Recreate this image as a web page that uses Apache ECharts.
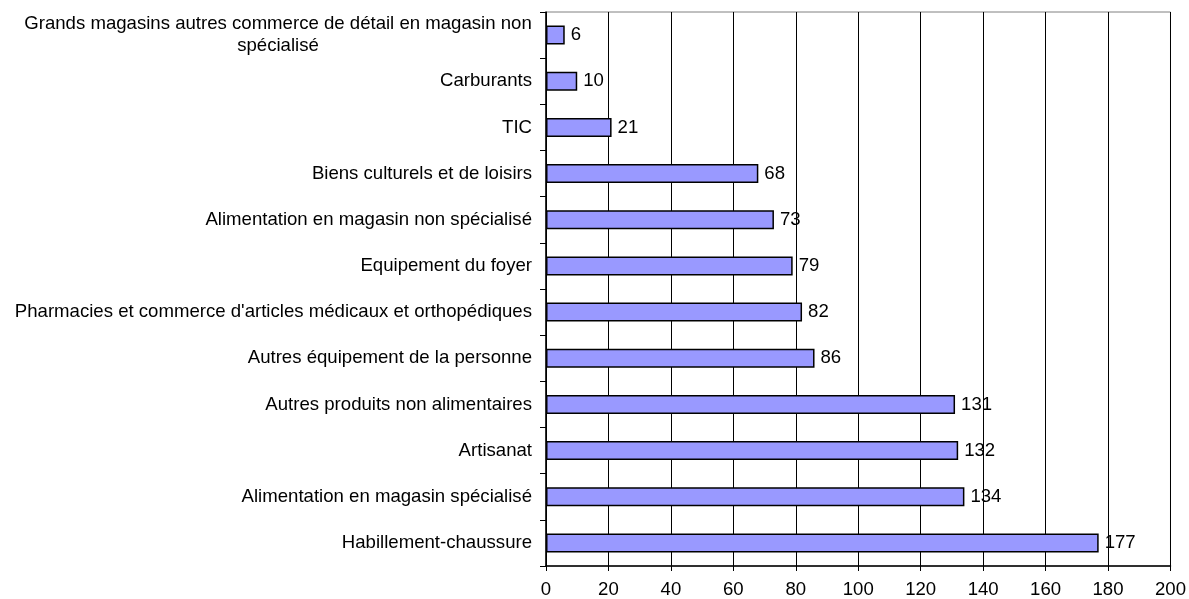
<!DOCTYPE html>
<html>
<head>
<meta charset="utf-8">
<script src="https://cdn.jsdelivr.net/npm/echarts@6/dist/echarts.min.js"></script>
<style>
  html, body { margin: 0; padding: 0; background: #fff; }
  #main { width: 1189px; height: 599px; }
</style>
</head>
<body>
<div id="main"></div>
<script>
  // categories, top to bottom
  const categories = [
    'Grands magasins autres commerce de détail en magasin non\nspécialisé',
    'Carburants',
    'TIC',
    'Biens culturels et de loisirs',
    'Alimentation en magasin non spécialisé',
    'Equipement du foyer',
    "Pharmacies et commerce d'articles médicaux et orthopédiques",
    'Autres équipement de la personne',
    'Autres produits non alimentaires',
    'Artisanat',
    'Alimentation en magasin spécialisé',
    'Habillement-chaussure',
  ];
  const values = [6, 10, 21, 68, 73, 79, 82, 86, 131, 132, 134, 177];
  const xTicks = [0, 20, 40, 60, 80, 100, 120, 140, 160, 180, 200];

  const fontFamily = 'Liberation Sans, Arial, sans-serif';
  const fontSize = 18.6;

  // width of the first line of the wrapped label, so the second line is centred under it
  const ctx = document.createElement('canvas').getContext('2d');
  ctx.font = fontSize + 'px ' + fontFamily;
  function lineWidth(s) {
    return Math.ceil(ctx.measureText(s).width);
  }

  const myChart = echarts.init(document.getElementById('main'));
  myChart.setOption({
    animation: false,
    backgroundColor: '#fff',
    textStyle: { fontFamily, fontSize, color: '#000' },
    grid: {
      left: 546,
      right: 16,
      top: 12,
      bottom: 32,
      show: true,
      borderColor: '#808080',
      borderWidth: 1,
    },
    xAxis: {
      type: 'value',
      min: xTicks[0],
      max: xTicks[xTicks.length - 1],
      interval: xTicks[1] - xTicks[0],
      axisLine: { show: true, lineStyle: { color: '#000', width: 1.5 } },
      axisTick: { show: true, length: 5, lineStyle: { color: '#000' } },
      axisLabel: { color: '#000', fontFamily, fontSize, margin: 14 },
      splitLine: { show: true, lineStyle: { color: '#000', width: 1 } },
    },
    yAxis: {
      type: 'category',
      inverse: true,
      data: categories,
      axisLine: { show: true, lineStyle: { color: '#000', width: 1.5 } },
      axisTick: { show: true, length: 6, lineStyle: { color: '#000' } },
      axisLabel: {
        color: '#000',
        fontFamily,
        fontSize,
        margin: 14,
        lineHeight: 22,
        formatter(v) {
          if (v.indexOf('\n') < 0) return v;
          return v.split('\n').map(l => '{c|' + l + '}').join('\n');
        },
        rich: {
          c: {
            width: lineWidth(categories[0].split('\n')[0]),
            align: 'center',
            fontFamily,
            fontSize,
            lineHeight: 22,
          },
        },
      },
    },
    series: [{
      type: 'bar',
      data: values,
      barWidth: 19,
      itemStyle: { color: '#9999FF', borderColor: '#000', borderWidth: 1.5 },
      label: {
        show: true,
        position: 'right',
        distance: 6,
        color: '#000',
        fontFamily,
        fontSize,
      },
    }],
  });
</script>
</body>
</html>
